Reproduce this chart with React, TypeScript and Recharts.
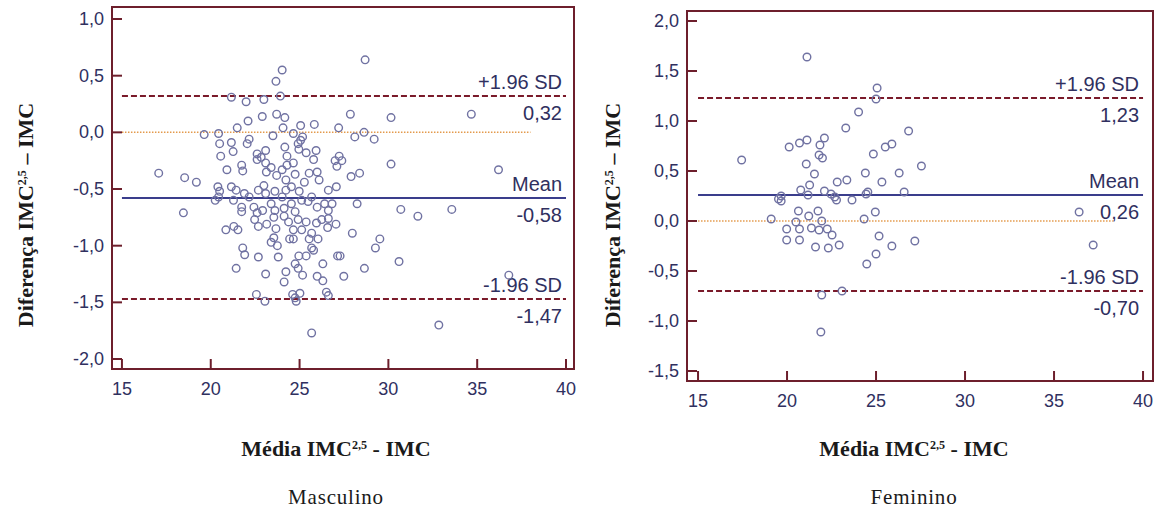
import React from 'react';
import {
  ScatterChart,
  Scatter,
  XAxis,
  YAxis,
  ReferenceLine,
  ReferenceArea,
} from 'recharts';

const X_TICKS = [15, 20, 25, 30, 35, 40];
const MALE_Y_TICKS = [-2, -1.5, -1, -0.5, 0, 0.5, 1];
const FEMALE_Y_TICKS = [-1.5, -1, -0.5, 0, 0.5, 1, 1.5, 2];

// +1.96 SD, mean, -1.96 SD
const MALE_LIMITS = [0.32, -0.58, -1.47];
const FEMALE_LIMITS = [1.23, 0.26, -0.7];

// [média, diferença]
const malePoints: [number, number][] = [
  [28.69, 0.64], [24.02, 0.55], [23.67, 0.45], [23.92, 0.32], [21.16, 0.31], [21.99, 0.27],
  [22.99, 0.29], [27.86, 0.16], [30.15, 0.13], [34.67, 0.16], [22.9, 0.14], [23.71, 0.16],
  [24.17, 0.13], [22.1, 0.1], [21.49, 0.04], [24.07, 0.04], [25.06, 0.06], [25.83, 0.07],
  [27.2, 0.04], [19.63, -0.02], [20.44, -0.01], [23.5, -0.03], [24.65, -0.01], [28.11, -0.04],
  [28.63, 0.0], [29.2, -0.06], [25.06, -0.07], [25.17, -0.04], [20.5, -0.1], [21.16, -0.09],
  [22.05, -0.1], [22.16, -0.06], [24.92, -0.1], [24.17, -0.13], [20.56, -0.21], [21.26, -0.17],
  [22.61, -0.19], [23.09, -0.16], [24.29, -0.21], [24.96, -0.15], [25.37, -0.18], [25.93, -0.16],
  [25.79, -0.24], [27.23, -0.21], [27.0, -0.25], [27.38, -0.25], [27.1, -0.3], [30.15, -0.28],
  [36.2, -0.33], [17.07, -0.36], [18.53, -0.4], [19.19, -0.44], [20.91, -0.33], [21.74, -0.29],
  [21.8, -0.34], [22.61, -0.24], [22.84, -0.22], [23.09, -0.27], [23.4, -0.31], [23.13, -0.35],
  [23.71, -0.38], [24.02, -0.33], [24.29, -0.29], [24.65, -0.27], [24.23, -0.42], [24.75, -0.37],
  [25.27, -0.44], [25.54, -0.36], [25.99, -0.35], [26.1, -0.42], [27.9, -0.39], [28.38, -0.36],
  [26.62, -0.51], [27.07, -0.48], [20.4, -0.48], [20.5, -0.52], [20.44, -0.57], [20.25, -0.6],
  [21.16, -0.48], [21.43, -0.51], [21.28, -0.6], [21.89, -0.54], [22.16, -0.57], [22.68, -0.51],
  [22.99, -0.47], [23.09, -0.54], [23.61, -0.52], [24.02, -0.57], [24.23, -0.51], [24.54, -0.48],
  [24.98, -0.52], [25.68, -0.57], [25.48, -0.61], [25.12, -0.6], [25.99, -0.66], [26.41, -0.63],
  [26.83, -0.63], [28.24, -0.63], [18.46, -0.71], [21.74, -0.66], [21.74, -0.7], [22.43, -0.66],
  [22.61, -0.71], [22.92, -0.69], [23.4, -0.63], [23.61, -0.69], [24.13, -0.67], [24.54, -0.63],
  [24.75, -0.7], [24.13, -0.74], [23.55, -0.75], [24.92, -0.77], [26.62, -0.69], [26.25, -0.77],
  [26.62, -0.76], [30.7, -0.68], [31.66, -0.74], [33.57, -0.68], [20.85, -0.86], [21.53, -0.86],
  [21.3, -0.83], [22.47, -0.77], [22.68, -0.83], [23.15, -0.81], [23.67, -0.85], [24.38, -0.79],
  [24.65, -0.86], [25.12, -0.86], [25.37, -0.79], [25.95, -0.8], [26.58, -0.84], [27.05, -0.81],
  [27.97, -0.89], [23.55, -0.93], [23.4, -0.97], [23.75, -1.0], [24.44, -0.94], [24.65, -0.94],
  [25.54, -0.94], [25.68, -0.89], [26.04, -0.94], [25.68, -1.02], [25.79, -1.04], [29.52, -0.94],
  [29.27, -1.02], [21.8, -1.02], [21.91, -1.08], [22.68, -1.1], [23.8, -1.1], [24.96, -1.09],
  [24.75, -1.16], [24.92, -1.2], [25.37, -1.09], [25.17, -1.26], [26.31, -1.16], [27.14, -1.09],
  [27.28, -1.09], [30.6, -1.14], [21.43, -1.2], [23.09, -1.25], [24.23, -1.23], [24.13, -1.32],
  [25.99, -1.27], [26.31, -1.31], [27.49, -1.27], [28.65, -1.2], [36.78, -1.26], [22.57, -1.43],
  [23.05, -1.49], [24.61, -1.43], [25.02, -1.42], [24.81, -1.49], [24.75, -1.46], [26.51, -1.41],
  [26.62, -1.44], [32.84, -1.7], [25.68, -1.77],
];

const femalePoints: [number, number][] = [
  [21.12, 1.64], [25.06, 1.33], [25.0, 1.22], [24.02, 1.09], [23.3, 0.93], [26.83, 0.9],
  [21.12, 0.81], [20.7, 0.78], [22.1, 0.83], [20.12, 0.74], [21.85, 0.76], [21.8, 0.66],
  [21.99, 0.63], [25.89, 0.77], [25.52, 0.74], [24.85, 0.67], [17.45, 0.61], [21.08, 0.57],
  [27.55, 0.55], [21.54, 0.47], [24.4, 0.48], [26.3, 0.48], [21.27, 0.36], [23.36, 0.41],
  [22.82, 0.39], [25.33, 0.39], [20.77, 0.31], [22.1, 0.3], [22.47, 0.27], [22.68, 0.24],
  [22.78, 0.21], [23.65, 0.21], [24.54, 0.29], [24.44, 0.27], [26.58, 0.29], [19.67, 0.25],
  [19.67, 0.2], [19.52, 0.22], [21.18, 0.26], [20.64, 0.1], [21.74, 0.1], [24.96, 0.09],
  [36.41, 0.09], [19.11, 0.02], [20.5, -0.01], [21.22, 0.05], [21.95, 0.0], [24.33, 0.02],
  [19.98, -0.08], [20.7, -0.08], [21.37, -0.07], [21.8, -0.09], [22.26, -0.08], [22.53, -0.14],
  [19.98, -0.19], [20.7, -0.19], [21.6, -0.26], [22.32, -0.27], [22.93, -0.24], [25.17, -0.15],
  [25.89, -0.25], [27.18, -0.2], [37.2, -0.24], [25.0, -0.33], [24.48, -0.43], [23.09, -0.7],
  [21.95, -0.74], [21.9, -1.11],
];

const FRAME = '#6d1f2c';
const SD_LINE = '#7a1a2a';
const MEAN_LINE = '#3a3d8c';
const ZERO_LINE = '#e39a4c';
const DOT = '#7072a2';
const TEXT = '#30305f';
const SANS = 'Arial, "Liberation Sans", sans-serif';
const SERIF = '"Times New Roman", "Liberation Serif", serif';

const fmtTick = (v: number) => v.toFixed(1).replace('.', ',');
const fmtLimit = (v: number) => v.toFixed(2).replace('.', ',');

const YTick = (props: any) => {
  const { x, y, payload } = props;
  const edge = x + 8;
  return (
    <g>
      <line x1={edge} x2={edge + 10} y1={y} y2={y} stroke={FRAME} strokeWidth={2} />
      <text x={x} y={y} dy={6} textAnchor="end" fill={TEXT} fontSize={18} fontFamily={SANS}>
        {fmtTick(payload.value)}
      </text>
    </g>
  );
};

const XTick = (props: any) => {
  const { x, y, payload } = props;
  return (
    <g>
      <line x1={x} x2={x} y1={y} y2={y - 10} stroke={FRAME} strokeWidth={2} />
      <text x={x} y={y + 26} textAnchor="middle" fill={TEXT} fontSize={18} fontFamily={SANS}>
        {payload.value}
      </text>
    </g>
  );
};

const lineTag = (top: string, bottom: string) => (props: any) => {
  const { x, y, width } = props.viewBox;
  const rx = x + width - 4;
  return (
    <g fontFamily={SANS} fontSize={20} fill={TEXT}>
      <text x={rx} y={y - 7} textAnchor="end">{top}</text>
      <text x={rx} y={y + 24} textAnchor="end">{bottom}</text>
    </g>
  );
};

const Ring = (props: any) => (
  <circle cx={props.cx} cy={props.cy} r={3.8} fill="none" stroke={DOT} strokeWidth={1.4} />
);

const Sup = () => <sup style={{ fontSize: '0.55em', verticalAlign: '0.6em' }}>2,5</sup>;

interface PanelProps {
  left: number;
  width: number;
  margin: { top: number; right: number; bottom: number; left: number };
  xDomain: [number, number];
  yDomain: [number, number];
  yTicks: number[];
  points: [number, number][];
  limits: number[];
  zeroEnd: number;
  caption: string;
  yTitleX: number;
  xTitleX: number;
}

const Panel = ({
  left, width, margin, xDomain, yDomain, yTicks, points, limits, zeroEnd, caption, yTitleX, xTitleX,
}: PanelProps) => {
  const data = points.map(([x, y]) => ({ x, y }));
  const [upper, mean, lower] = limits;
  return (
    <>
      <div style={{ position: 'absolute', left, top: 0 }}>
        <ScatterChart width={width} height={420} margin={margin}>
          <XAxis
            type="number"
            dataKey="x"
            domain={xDomain}
            ticks={X_TICKS}
            allowDataOverflow
            height={30}
            tickSize={0}
            tickMargin={0}
            tickLine={false}
            axisLine={false}
            tick={(p: any) => <XTick {...p} />}
          />
          <YAxis
            type="number"
            dataKey="y"
            domain={yDomain}
            ticks={yTicks}
            allowDataOverflow
            width={60}
            tickSize={0}
            tickMargin={8}
            tickLine={false}
            axisLine={false}
            tick={(p: any) => <YTick {...p} />}
          />
          <ReferenceArea
            x1={xDomain[0]}
            x2={xDomain[1]}
            y1={yDomain[0]}
            y2={yDomain[1]}
            fill="none"
            stroke={FRAME}
            strokeWidth={2}
          />
          <ReferenceLine
            segment={[{ x: 15, y: 0 }, { x: zeroEnd, y: 0 }]}
            stroke={ZERO_LINE}
            strokeWidth={1.5}
            strokeDasharray="1.5 1.5"
          />
          <ReferenceLine
            segment={[{ x: 15, y: upper }, { x: 40, y: upper }]}
            stroke={SD_LINE}
            strokeWidth={2}
            strokeDasharray="6 3"
            label={lineTag('+1.96 SD', fmtLimit(upper))}
          />
          <ReferenceLine
            segment={[{ x: 15, y: mean }, { x: 40, y: mean }]}
            stroke={MEAN_LINE}
            strokeWidth={2}
            label={lineTag('Mean', fmtLimit(mean))}
          />
          <ReferenceLine
            segment={[{ x: 15, y: lower }, { x: 40, y: lower }]}
            stroke={SD_LINE}
            strokeWidth={2}
            strokeDasharray="6 3"
            label={lineTag('-1.96 SD', fmtLimit(lower))}
          />
          <Scatter data={data} shape={Ring} isAnimationActive={false} />
        </ScatterChart>
      </div>
      <div
        style={{
          position: 'absolute',
          left: yTitleX - 150,
          top: 203,
          width: 300,
          height: 24,
          lineHeight: '24px',
          textAlign: 'center',
          transform: 'rotate(-90deg)',
          fontFamily: SERIF,
          fontWeight: 'bold',
          fontSize: 22,
          color: '#1a1a1a',
          whiteSpace: 'nowrap',
        }}
      >
        Diferença IMC<Sup /> – IMC
      </div>
      <div
        style={{
          position: 'absolute',
          left: xTitleX - 150,
          top: 436,
          width: 300,
          textAlign: 'center',
          fontFamily: SERIF,
          fontWeight: 'bold',
          fontSize: 22,
          color: '#1a1a1a',
          whiteSpace: 'nowrap',
        }}
      >
        Média IMC<Sup /> - IMC
      </div>
      <div
        style={{
          position: 'absolute',
          left: xTitleX - 150,
          top: 485,
          width: 300,
          textAlign: 'center',
          fontFamily: SERIF,
          fontSize: 21,
          letterSpacing: 0.8,
          color: '#1a1a1a',
        }}
      >
        {caption}
      </div>
    </>
  );
};

export default function App() {
  return (
    <div
      style={{
        position: 'absolute',
        left: 0,
        top: 0,
        width: 1161,
        height: 511,
        background: '#ffffff',
        overflow: 'hidden',
      }}
    >
      <Panel
        left={0}
        width={580}
        margin={{ top: 7, right: 6, bottom: 21, left: 52 }}
        xDomain={[14.44, 40.45]}
        yDomain={[-2.088, 1.106]}
        yTicks={MALE_Y_TICKS}
        points={malePoints}
        limits={MALE_LIMITS}
        zeroEnd={38}
        caption="Masculino"
        yTitleX={22}
        xTitleX={336}
      />
      <Panel
        left={580}
        width={581}
        margin={{ top: 11, right: 8, bottom: 9, left: 47 }}
        xDomain={[14.38, 40.56]}
        yDomain={[-1.6, 2.1]}
        yTicks={FEMALE_Y_TICKS}
        points={femalePoints}
        limits={FEMALE_LIMITS}
        zeroEnd={38.3}
        caption="Feminino"
        yTitleX={609}
        xTitleX={914}
      />
    </div>
  );
}
